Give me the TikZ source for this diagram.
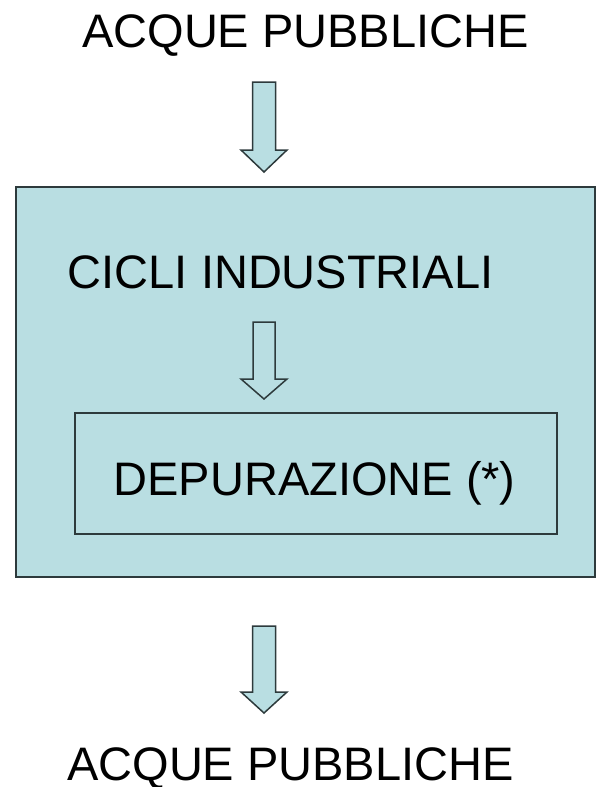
\documentclass[tikz,border=0pt]{standalone}
\usepackage{fontspec}
\setmainfont{Liberation Sans}
\definecolor{boxfill}{RGB}{185,222,226}
\definecolor{edge}{RGB}{45,58,60}
\begin{document}
\begin{tikzpicture}[x=1pt,y=-1pt,
  lbl/.style={inner sep=0pt, anchor=base west, font=\fontsize{47}{56}\selectfont},
  bigbox/.style={draw=edge, line width=2pt, fill=boxfill, inner sep=0pt},
  smallbox/.style={draw=edge, line width=1.2pt, inner sep=0pt},
  blockarrow/.style={draw=edge, line width=1.5pt, line join=miter}]
\useasboundingbox (0,0) rectangle (596,787);
\fill[white] (0,0) rectangle (596,787);
% outer box
\node[bigbox, minimum width=579pt, minimum height=390pt] (outer) at (305.5,382) {};
% inner box
\node[smallbox, minimum width=482pt, minimum height=121pt] (inner) at (316,473.5) {};
% texts
\node[lbl] (topt) at (82,47) {ACQUE PUBBLICHE};
\node[lbl] (cicli) at (67.7,288) {CICLI INDUSTRIALI};
\node[lbl] (depur) at (113.3,495) {DEPURAZIONE (*)};
\node[lbl, text depth=0pt] (bott) at (67,780) {ACQUE PUBBLICHE};
% arrows
\draw[blockarrow, fill=boxfill] (252.5,82) -- (275.5,82) -- (275.5,150) -- (287,150) -- (264,172) -- (241,150) -- (252.5,150) -- cycle;
\draw[blockarrow] (253,322) -- (275,322) -- (275,379) -- (287,379) -- (264,399) -- (241,379) -- (253,379) -- cycle;
\draw[blockarrow, fill=boxfill] (252.5,626) -- (275.5,626) -- (275.5,692) -- (287,692) -- (264,713) -- (241,692) -- (252.5,692) -- cycle;
\end{tikzpicture}
\end{document}
